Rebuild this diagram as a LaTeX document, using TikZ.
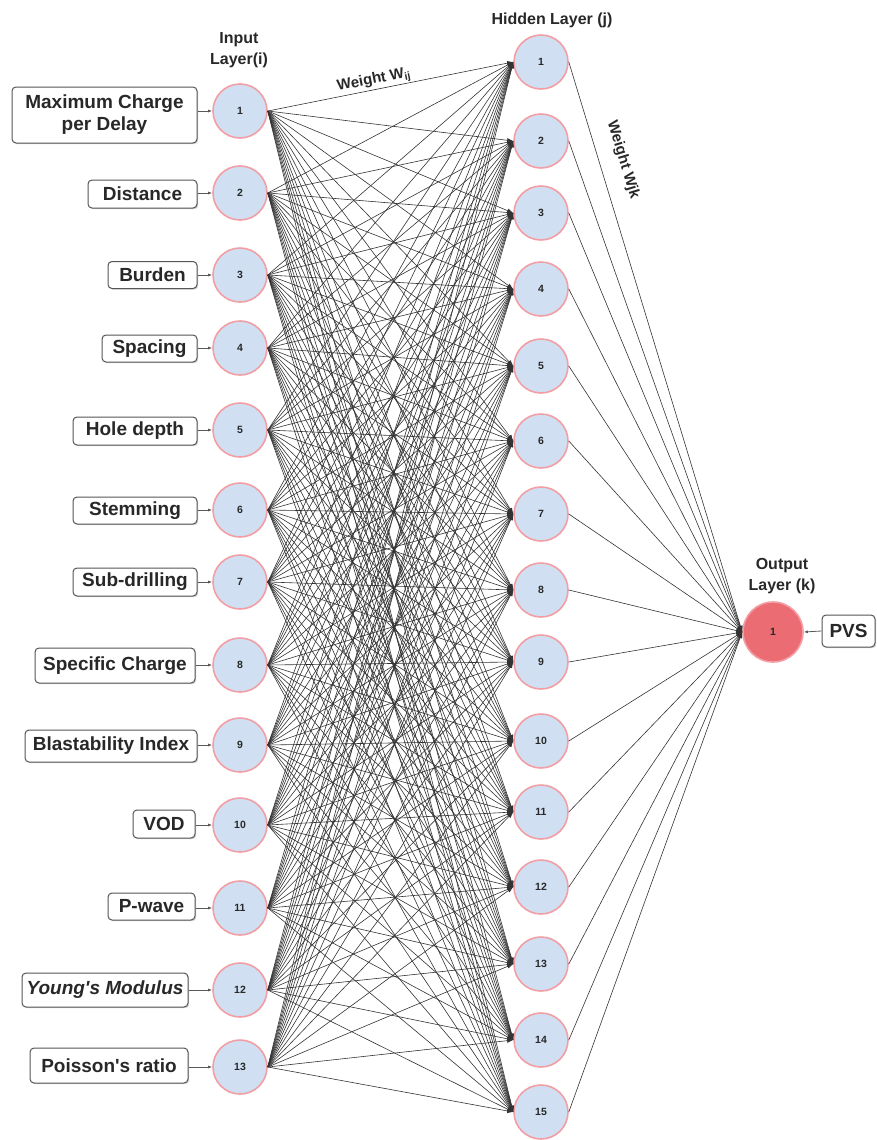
\documentclass[tikz,border=0pt]{standalone}
\usepackage{fontspec}
\setmainfont{Liberation Sans}[Ligatures=TeXOff]
\usetikzlibrary{arrows.meta,shadows}
\definecolor{nodeblue}{RGB}{208,224,242}
\definecolor{nodepink}{RGB}{242,158,164}
\definecolor{outred}{RGB}{236,108,116}
\definecolor{boxgray}{RGB}{85,85,85}
\definecolor{txt}{RGB}{40,40,40}
\begin{document}
\begin{tikzpicture}[x=1pt,y=-1pt,
  neuron/.style={circle, draw=nodepink, line width=1.6pt, fill=nodeblue,
    minimum size=54pt, inner sep=0pt, text=txt,
    font=\bfseries\fontsize{10.5}{12}\selectfont},
  outneuron/.style={neuron, fill=outred, minimum size=60pt},
  feat/.style={draw=boxgray, line width=1pt, rounded corners=4pt, fill=white,
    text=txt, inner sep=0pt, align=center,
    font=\bfseries\fontsize{19}{22}\selectfont,
    drop shadow={shadow xshift=1.2pt, shadow yshift=-1.2pt, opacity=0.18, fill=black}},
  layerlbl/.style={text=txt, align=center, font=\bfseries\fontsize{16}{21}\selectfont},
  wlbl/.style={text=txt, font=\bfseries\fontsize{15}{18}\selectfont, inner sep=1pt},
  conn/.style={draw=black!80, line width=0.6pt, -{Latex[length=6pt,width=4.5pt]}},
  farrow/.style={draw=black!65, line width=0.8pt, -{Latex[length=4pt,width=3pt]}}
]
\useasboundingbox (0,0) rectangle (877,1140);

% layer labels
\node[layerlbl] (lin) at (239,50) {Input\\Layer(i)};
\node[layerlbl] (lhid) at (552,20) {Hidden Layer (j)};
\node[layerlbl] (lout) at (782,576) {Output\\Layer (k)};

% input neurons
\foreach \y [count=\i] in {111,193,275,348,430,510,582,665,745,825,908,990,1067}
  \node[neuron] (in\i) at (240,\y) {\i};

% hidden neurons
\foreach \y [count=\j] in {62,141,213,289,366,441,514,590,662,741,812,887,964,1040,1112}
  \node[neuron] (hid\j) at (541,\y) {\j};

% output neuron
\node[outneuron] (out) at (773,632) {1};

% feature boxes
\node[feat, minimum width=185pt, minimum height=56pt] (f1) at (104.5,115) {Maximum Charge\\per Delay};
\node[feat, minimum width=109pt, minimum height=28pt] (f2) at (142.5,194) {Distance};
\node[feat, minimum width=89pt, minimum height=27pt] (f3) at (152.5,275) {Burden};
\node[feat, minimum width=95pt, minimum height=27pt] (f4) at (149.5,348.5) {Spacing};
\node[feat, minimum width=124pt, minimum height=28pt] (f5) at (135,431) {Hole depth};
\node[feat, minimum width=124pt, minimum height=27pt] (f6) at (135,510.5) {Stemming};
\node[feat, minimum width=124pt, minimum height=28pt] (f7) at (135,582) {Sub-drilling};
\node[feat, minimum width=160pt, minimum height=35pt] (f8) at (115,665.5) {Specific Charge};
\node[feat, minimum width=172pt, minimum height=32pt] (f9) at (111,746) {Blastability Index};
\node[feat, minimum width=62pt, minimum height=28pt] (f10) at (164,824) {VOD};
\node[feat, minimum width=87pt, minimum height=27pt] (f11) at (151.5,906.5) {P-wave};
\node[feat, minimum width=166pt, minimum height=34pt] (f12) at (105,990) {\itshape Young's Modulus};
\node[feat, minimum width=158pt, minimum height=35pt] (f13) at (109,1065.5) {Poisson's ratio};
\node[feat, minimum width=53pt, minimum height=32pt] (pvs) at (848.5,631) {PVS};

% feature arrows
\foreach \i in {1,...,13}
  \draw[farrow] (f\i.east |- in\i.west) -- (in\i.west);
\draw[farrow] (pvs.west) -- (out.east);

% input -> hidden
\foreach \i in {1,...,13}
  \foreach \j in {1,...,15}
    \draw[conn] (in\i.east) -- (hid\j.west);

% hidden -> output
\foreach \j in {1,...,15}
  \draw[conn] (hid\j.east) -- (out.west);

% weight labels
\path (in1.east) -- (hid1.west) node[wlbl, sloped, above, pos=0.44] (wij) {Weight W\textsubscript{ij}};
\node[wlbl, rotate=-73] (wjk) at (623,160) {Weight Wjk};
\end{tikzpicture}
\end{document}
